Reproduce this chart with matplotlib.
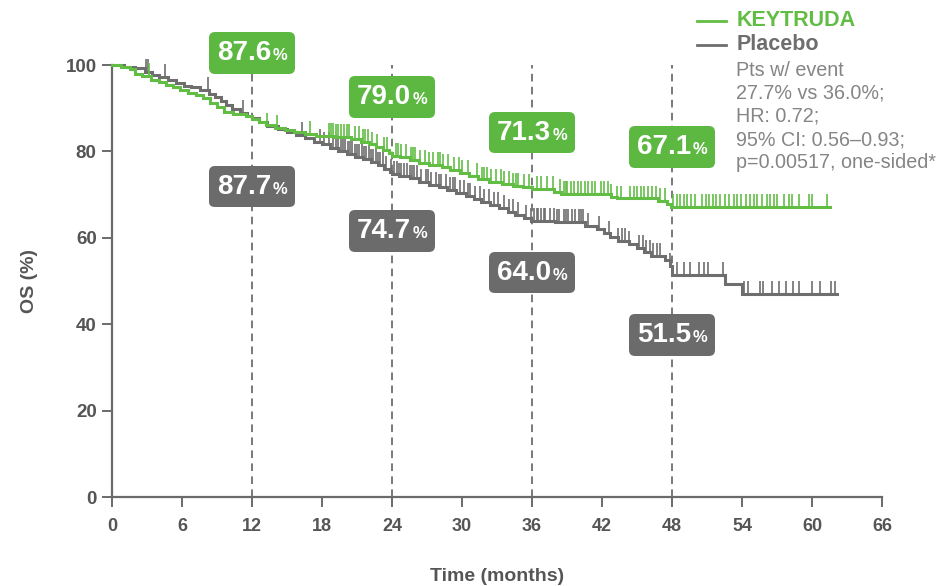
import numpy as np
import matplotlib
matplotlib.use("Agg")
import matplotlib.pyplot as plt
from matplotlib.lines import Line2D
from matplotlib.offsetbox import TextArea, HPacker, AnnotationBbox

plt.rcParams["font.family"] = ["Liberation Sans", "DejaVu Sans"]

# ---- Kaplan-Meier step data (time in months, OS in %) ----
keytruda_t = [0, 0.8, 1.5, 2.0, 2.6, 3.3, 4.0, 4.6, 5.2, 5.8, 6.5, 7.2, 7.8, 8.4, 9.0,
              9.6, 10.4, 11.5, 12.0, 12.6, 13.2, 14.0, 14.8, 15.6, 16.5, 17.5, 19.0,
              20.5, 21.3, 22.0, 22.6, 23.2, 23.7, 24.0, 24.7, 25.5, 26.3, 27.2, 28.3,
              29.0, 29.8, 30.6, 31.4, 32.3, 33.4, 34.4, 35.2, 36.0, 37.9, 38.5, 42.8,
              43.3, 46.8, 47.6, 47.9]
keytruda_s = [100, 99.6, 99.0, 98.0, 97.4, 96.6, 96.0, 95.4, 94.8, 94.2, 93.6, 93.0, 92.3,
              91.3, 90.2, 89.2, 88.6, 88.2, 87.6, 86.8, 86.0, 85.5, 84.9, 84.4, 84.0, 83.6,
              83.3, 82.9, 82.2, 81.6, 81.0, 80.3, 79.6, 79.0, 78.6, 78.0, 77.3, 76.8, 76.3,
              75.6, 74.9, 74.2, 73.5, 72.9, 72.5, 72.1, 71.7, 71.3, 70.5, 70.2, 69.5, 69.1,
              68.6, 67.8, 67.1]
keytruda_end = 61.5

placebo_t = [0, 1.0, 2.0, 2.8, 3.4, 4.0, 4.8, 5.5, 6.2, 6.8, 7.5, 8.3, 8.8, 9.3, 9.8,
             10.3, 11.0, 11.6, 12.0, 12.6, 13.3, 14.2, 15.0, 15.8, 16.5, 17.3, 18.0, 18.7,
             19.4, 20.1, 20.8, 21.5, 22.2, 22.8, 23.3, 23.8, 24.0, 24.6, 25.5, 26.3, 27.2,
             28.0, 28.7, 29.5, 30.3, 31.0, 31.6, 32.4, 33.2, 33.9, 34.5, 35.3, 35.9, 38.0,
             40.5, 41.6, 42.2, 42.7, 43.4, 44.3, 45.0, 45.6, 46.2, 47.4, 47.8, 48.0, 52.5,
             54.0]
placebo_s = [100, 99.6, 99.2, 98.4, 97.8, 97.2, 96.5, 95.8, 95.2, 94.8, 94.2, 93.3, 92.5,
             91.6, 90.7, 89.7, 88.8, 88.2, 87.7, 86.9, 85.9, 85.1, 84.4, 83.7, 83.0, 82.2,
             81.6, 80.8, 80.2, 79.5, 78.8, 78.2, 77.5, 76.8, 76.0, 75.3, 74.7, 74.4, 73.8,
             73.0, 72.3, 71.7, 71.1, 70.4, 69.7, 69.0, 68.2, 67.5, 66.8, 66.0, 65.2, 64.6,
             64.0, 63.6, 62.8, 62.0, 61.0, 60.2, 59.3, 58.5, 57.6, 56.6, 55.8, 54.9, 53.4,
             51.5, 49.3, 47.1]
placebo_end = 62.1

# censoring times
keytruda_cens = [3.2, 13.3, 14.1, 17.0, 18.6, 18.8, 18.9, 19.2, 19.4, 19.6, 19.9, 20.1,
                 20.3, 20.8, 21.2, 21.5, 21.7, 21.9, 22.3, 22.7, 23.3, 23.6, 24.3, 24.5,
                 24.8, 25.2, 25.6, 25.8, 26.0, 26.4, 26.8, 27.2, 27.5, 27.9, 28.1, 28.4,
                 28.8, 29.3, 29.7, 30.0, 30.5, 31.3, 31.7, 31.9, 32.1, 32.5, 32.9, 33.3,
                 33.6, 34.0, 34.4, 34.6, 34.8, 35.3, 35.7, 36.4, 36.8, 37.3, 37.8, 38.4,
                 38.7, 38.9, 39.0, 39.3, 39.6, 39.9, 40.2, 40.5, 40.8, 41.1, 41.4, 41.9,
                 42.2, 42.5, 42.8, 43.3, 43.6, 44.4, 44.7, 45.0, 45.3, 45.6, 45.9, 46.3,
                 46.6, 47.0, 47.4, 48.1, 48.4, 48.7, 49.0, 49.3, 49.6, 50.0, 50.6, 50.9,
                 51.2, 51.5, 51.8, 52.1, 52.5, 52.9, 53.3, 53.6, 53.9, 54.3, 54.7, 55.0,
                 55.3, 55.7, 56.1, 56.4, 56.7, 57.0, 57.6, 58.0, 58.3, 58.9, 59.7, 60.0,
                 61.3]
placebo_cens = [2.9, 3.1, 4.5, 8.2, 11.2, 16.3, 17.8, 18.2, 18.6, 18.9, 19.2, 19.4, 19.6,
                19.8, 20.0, 20.2, 20.4, 20.6, 20.8, 21.0, 21.2, 21.4, 21.6, 21.8, 22.0,
                22.2, 22.4, 22.6, 22.8, 23.0, 23.2, 23.5, 23.9, 24.2, 24.4, 24.6, 24.8,
                25.0, 25.3, 25.5, 25.7, 25.9, 26.1, 26.5, 26.9, 27.1, 27.3, 27.8, 28.0,
                28.2, 28.6, 29.0, 29.2, 29.4, 29.8, 30.2, 30.5, 30.7, 31.1, 31.5, 31.9,
                32.3, 32.7, 33.1, 33.6, 34.0, 34.4, 34.8, 35.5, 35.9, 36.2, 36.4, 36.5,
                36.8, 37.0, 37.1, 37.5, 37.9, 38.1, 38.3, 38.7, 38.9, 39.1, 39.4, 39.7,
                40.0, 40.2, 40.4, 40.8, 41.7, 42.6, 43.4, 43.7, 44.0, 44.3, 45.2, 45.5,
                45.8, 46.1, 46.4, 46.7, 47.0, 47.8, 48.4, 49.0, 49.5, 50.3, 50.7, 51.1,
                52.4, 54.2, 54.5, 55.5, 55.8, 56.6, 57.2, 57.8, 58.4, 58.9, 60.0, 60.7,
                61.6, 62.0]

# landmark estimates
landmarks = [12, 24, 36, 48]
keytruda_landmark = ["87.6", "79.0", "71.3", "67.1"]
placebo_landmark = ["87.7", "74.7", "64.0", "51.5"]
keytruda_label_y = [102.8, 92.6, 84.3, 81.0]
placebo_label_y = [71.8, 61.6, 51.9, 37.5]

x_ticks = [0, 6, 12, 18, 24, 30, 36, 42, 48, 54, 60, 66]
y_ticks = [0, 20, 40, 60, 80, 100]

stats_lines = ["Pts w/ event", "27.7% vs 36.0%;", "HR: 0.72;",
               "95% CI: 0.56\u20130.93;", "p=0.00517, one-sided*"]

GREEN = "#62BD45"
GREEN_BOX = "#5DB842"
GRAY = "#6E6E6E"
GRAY_BOX = "#6B6B6B"
AXIS = "#6A6A6A"
TEXT = "#555555"
STAT = "#858585"

W, H = 944, 586
fig = plt.figure(figsize=(W / 100, H / 100), dpi=100)
ax = fig.add_axes([112 / W, (H - 497) / H, 770 / W, 432 / H])


def km_value(times, surv, t):
    idx = np.searchsorted(np.asarray(times), t, side="right") - 1
    return np.asarray(surv)[idx]


def draw_arm(times, surv, end, cens, color, z):
    tt = list(times) + [end]
    ss = list(surv) + [surv[-1]]
    ax.step(tt, ss, where="post", color=color, lw=2.2, zorder=z, clip_on=False,
            solid_joinstyle="miter")
    cens = np.asarray(cens)
    cv = km_value(times, surv, cens)
    ax.vlines(cens, cv, cv + 3.0, color=color, lw=1.2, zorder=z, clip_on=False)


# dashed landmark lines
for t in landmarks:
    ax.plot([t, t], [0, 100], ls=(0, (5, 3.5)), color="#555555", lw=1.1, zorder=1)

draw_arm(placebo_t, placebo_s, placebo_end, placebo_cens, GRAY, 3)
draw_arm(keytruda_t, keytruda_s, keytruda_end, keytruda_cens, GREEN, 4)


def value_box(x, y, value, face):
    num = TextArea(value, textprops=dict(color="white", fontsize=20, fontweight="bold",
                                          family="Liberation Sans"))
    pct = TextArea("%", textprops=dict(color="white", fontsize=12, fontweight="bold",
                                        family="Liberation Sans"))
    pack = HPacker(children=[num, pct], align="baseline", pad=0, sep=1)
    ab = AnnotationBbox(pack, (x, y), xycoords="data", frameon=True, pad=0.55,
                        box_alignment=(0.5, 0.5), zorder=6, annotation_clip=False,
                        bboxprops=dict(boxstyle="round,pad=0.55,rounding_size=0.4",
                                       fc=face, ec="none"))
    ax.add_artist(ab)


for t, v, y in zip(landmarks, keytruda_landmark, keytruda_label_y):
    value_box(t, y, v, GREEN_BOX)
for t, v, y in zip(landmarks, placebo_landmark, placebo_label_y):
    value_box(t, y, v, GRAY_BOX)

# axes styling
ax.set_xlim(0, 66)
ax.set_ylim(0, 100)
for side in ("top", "right"):
    ax.spines[side].set_visible(False)
for side in ("left", "bottom"):
    ax.spines[side].set_color(AXIS)
    ax.spines[side].set_linewidth(1.6)
ax.set_xticks(x_ticks)
ax.set_yticks(y_ticks)
ax.tick_params(axis="both", direction="out", length=7, width=1.4, color=AXIS)
ax.set_yticklabels([str(v) for v in y_ticks], fontsize=13.5, fontweight="bold",
                   color=TEXT)
ax.set_xticklabels([str(v) for v in x_ticks], fontsize=13, fontweight="bold",
                   color=TEXT)
ax.tick_params(axis="y", pad=4)
ax.tick_params(axis="x", pad=8)
ax.set_ylabel("OS (%)", fontsize=14, fontweight="bold", color=TEXT, labelpad=20)
ax.set_xlabel("Time (months)", fontsize=14, fontweight="bold", color=TEXT,
              labelpad=24)

# legend and statistics block
def fx(px):
    return px / W


def fy(py):
    return 1 - py / H


fig.add_artist(Line2D([fx(697), fx(726)], [fy(21), fy(21)], color=GREEN, lw=2.0))
fig.add_artist(Line2D([fx(697), fx(726)], [fy(45), fy(45)], color=GRAY, lw=2.0))
fig.text(fx(737), fy(21), "KEYTRUDA", color=GREEN, fontsize=15.5, fontweight="bold",
         va="center", ha="left")
fig.text(fx(737), fy(45), "Placebo", color=GRAY, fontsize=15.5, fontweight="bold",
         va="center", ha="left")
for i, line in enumerate(stats_lines):
    fig.text(fx(736), fy(70 + i * 23.2), line, color=STAT, fontsize=14.2,
             va="center", ha="left")

fig.savefig("out.png", dpi=100, facecolor="white")
